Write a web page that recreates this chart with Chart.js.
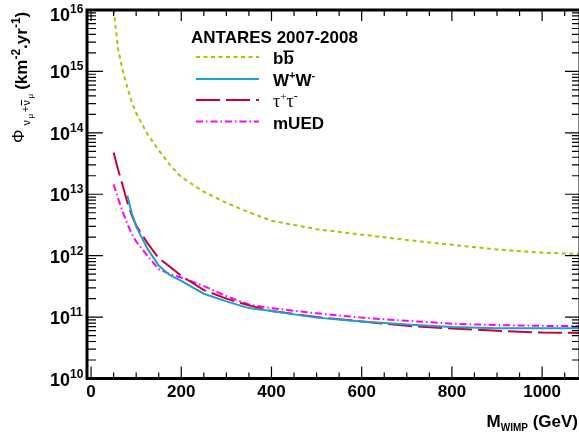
<!DOCTYPE html>
<html>
<head>
<meta charset="utf-8">
<script src="https://cdn.jsdelivr.net/npm/chart.js@4.4.0/dist/chart.umd.min.js"></script>
<style>
    html, body { margin: 0; padding: 0; background: #fff; overflow: hidden; }
    #wrap { width: 579px; height: 439px; overflow: hidden; }
</style>
</head>
<body>
<div id="wrap"><canvas id="myChart" width="590" height="439"></canvas></div>
<script>
// WIMP masses (GeV) where the limits are read
const masses = [50, 60, 70, 80.4, 90, 100, 125, 150, 175, 200, 250, 300, 350, 400, 500, 600, 700, 800, 900, 1000, 1100];

// flux limits (km^-2 yr^-1), one per channel
const fluxBB = [1.0e16, 2.3e15, 1.05e15, 5.5e14, 3.2e14, 2.1e14, 9.5e13, 5.2e13, 3.0e13, 1.9e13, 1.1e13, 7.2e12, 5.1e12, 3.7e12, 2.7e12, 2.2e12, 1.8e12, 1.5e12, 1.26e12, 1.12e12, 1.05e12];
const fluxWW = [null, null, null, 9.5e12, 5.0e12, 3.0e12, 1.3e12, 6.9e11, 4.8e11, 3.9e11, 2.4e11, 1.8e11, 1.4e11, 1.26e11, 9.8e10, 8.5e10, 7.6e10, 6.9e10, 6.6e10, 6.6e10, 6.6e10];
const fluxTauTau = [4.8e13, 2.5e13, 1.4e13, 7.4e12, 4.6e12, 3.1e12, 1.6e12, 9.1e11, 6.6e11, 4.7e11, 2.75e11, 2.0e11, 1.55e11, 1.26e11, 1.0e11, 8.5e10, 7.2e10, 6.5e10, 6.0e10, 5.6e10, 5.5e10];
const fluxMUED = [1.45e13, 8.5e12, 5.2e12, 3.3e12, 2.3e12, 1.7e12, 1.0e12, 6.0e11, 5.0e11, 4.4e11, 3.2e11, 2.2e11, 1.6e11, 1.4e11, 1.15e11, 9.8e10, 8.7e10, 7.8e10, 7.4e10, 7.2e10, 7.1e10];

const xTicks = [0, 200, 400, 600, 800, 1000];
const yExponents = [10, 11, 12, 13, 14, 15, 16];

function toPoints(values) {
    return masses.map((m, i) => ({ x: m, y: values[i] })).filter(p => p.y !== null);
}

const BOLD = '"Liberation Sans", Arial, sans-serif';

// draws a run of text pieces: [text, font, dy, gapAfter], returns the end x
function drawRun(ctx, x, y, pieces) {
    pieces.forEach(([txt, font, dy, gap]) => {
        ctx.font = font;
        ctx.fillText(txt, x, y + dy);
        x += ctx.measureText(txt).width + (gap || 0);
    });
    return x;
}
function runWidth(ctx, pieces) {
    let w = 0;
    pieces.forEach(([txt, font, dy, gap]) => { ctx.font = font; w += ctx.measureText(txt).width + (gap || 0); });
    return w;
}

const rootStyle = {
    id: 'rootStyle',
    afterDraw(chart) {
        const ctx = chart.ctx;
        const a = chart.chartArea;
        const xs = chart.scales.x, ys = chart.scales.y;
        ctx.save();
        ctx.fillStyle = '#000';
        ctx.strokeStyle = '#000';

        // frame
        ctx.lineWidth = 3;
        ctx.strokeRect(a.left, a.top, a.right - a.left, a.bottom - a.top);

        // x ticks, inside, bottom and top
        ctx.lineWidth = 1.2;
        for (let v = 0; v <= 1050; v += 50) {
            const px = xs.getPixelForValue(v);
            const major = v % 200 === 0;
            ctx.beginPath();
            ctx.moveTo(px, a.bottom); ctx.lineTo(px, a.bottom - (major ? 12 : 6));
            ctx.moveTo(px, a.top); ctx.lineTo(px, a.top + (major ? 11 : 6));
            ctx.stroke();
        }
        // y ticks, inside, left and right
        for (let e = 10; e <= 16; e++) {
            for (let k = 1; k <= 9; k++) {
                const v = k * Math.pow(10, e);
                if (v > 1e16) break;
                const py = ys.getPixelForValue(v);
                const major = k === 1;
                ctx.beginPath();
                ctx.moveTo(a.left, py); ctx.lineTo(a.left + (major ? 16 : 9), py);
                ctx.moveTo(a.right, py); ctx.lineTo(a.right - (major ? 15 : 8), py);
                ctx.stroke();
            }
        }

        // x tick labels
        ctx.textAlign = 'center';
        ctx.textBaseline = 'alphabetic';
        ctx.font = 'bold 17px ' + BOLD;
        xTicks.forEach(v => ctx.fillText(String(v), xs.getPixelForValue(v), 397));

        // y tick labels 10^n
        ctx.textAlign = 'left';
        yExponents.forEach(e => {
            const py = Math.max(ys.getPixelForValue(Math.pow(10, e)), 14);
            ctx.font = 'bold 18px ' + BOLD;
            const w = ctx.measureText('10').width;
            ctx.fillText('10', 70 - w, py + 7);
            ctx.font = 'bold 12px ' + BOLD;
            ctx.fillText(String(e), 70, py - 1);
        });

        // x title
        const xt = [
            ['M', 'bold 17px ' + BOLD, 0],
            ['WIMP', 'bold 10px ' + BOLD, 4],
            [' (GeV)', 'bold 17px ' + BOLD, 0]
        ];
        drawRun(ctx, 578 - runWidth(ctx, xt), 427, xt);

        // y title, rotated
        ctx.save();
        ctx.translate(27, 143);
        ctx.rotate(-Math.PI / 2);
        let x = drawRun(ctx, 0, 0, [['\u03A6', '17px ' + BOLD, -3]]);
        x = drawRun(ctx, x + 4, 0, [
            ['\u03BD', '11px ' + BOLD, 3, 1.5],
            ['\u03BC', '8px ' + BOLD, 6, 1.5],
            ['+', '11px ' + BOLD, 2, 0.5]
        ]);
        ctx.font = '11px ' + BOLD;
        const nuW = ctx.measureText('\u03BD').width;
        ctx.fillRect(x, -6, nuW, 1);
        x = drawRun(ctx, x, 0, [
            ['\u03BD', '11px ' + BOLD, 3, 1.5],
            ['\u03BC', '8px ' + BOLD, 6, 0]
        ]);
        drawRun(ctx, x + 4, 0, [
            ['(km', 'bold 17px ' + BOLD, 0],
            ['-2', 'bold 12px ' + BOLD, -7],
            ['.yr', 'bold 17px ' + BOLD, 0],
            ['-1', 'bold 12px ' + BOLD, -7],
            [')', 'bold 17px ' + BOLD, 0]
        ]);
        ctx.restore();

        // legend
        ctx.font = 'bold 17px ' + BOLD;
        ctx.fillText('ANTARES 2007-2008', 191, 43);
        const rows = [57, 79, 100, 121.5];
        chart.data.datasets.forEach((ds, i) => {
            const y = rows[i];
            ctx.save();
            ctx.strokeStyle = ds.borderColor;
            ctx.lineWidth = ds.borderWidth;
            ctx.setLineDash(ds.borderDash);
            ctx.beginPath();
            ctx.moveTo(196, y); ctx.lineTo(259, y);
            ctx.stroke();
            ctx.restore();
        });
        const lx = 273;
        // b bbar
        ctx.font = 'bold 17px ' + BOLD;
        const bW = ctx.measureText('b').width;
        ctx.fillText('bb', lx, rows[0] + 7);
        ctx.fillRect(lx + bW, rows[0] - 6.5, bW, 1.5);
        drawRun(ctx, lx, rows[1] + 7, [
            ['W', 'bold 17px ' + BOLD, 0],
            ['+', 'bold 11px ' + BOLD, -7],
            ['W', 'bold 17px ' + BOLD, 0],
            ['-', 'bold 11px ' + BOLD, -7]
        ]);
        drawRun(ctx, lx, rows[2] + 7, [
            ['\u03C4', '18px "Liberation Serif", serif', 0],
            ['+', '11px "Liberation Serif", serif', -7],
            ['\u03C4', '18px "Liberation Serif", serif', 0],
            ['-', '12px "Liberation Serif", serif', -7]
        ]);
        ctx.font = 'bold 17px ' + BOLD;
        ctx.fillText('mUED', lx, rows[3] + 7);

        ctx.restore();
    }
};

const ctx = document.getElementById('myChart');

new Chart(ctx, {
    type: 'line',
    data: {
        datasets: [
            { label: 'bb', data: toPoints(fluxBB), borderColor: '#99cc00', borderWidth: 2, borderDash: [4, 3.5] },
            { label: 'WW', data: toPoints(fluxWW), borderColor: '#1aa0d2', borderWidth: 2, borderDash: [] },
            { label: 'tautau', data: toPoints(fluxTauTau), borderColor: '#cc0033', borderWidth: 2, borderDash: [24, 6] },
            { label: 'mUED', data: toPoints(fluxMUED), borderColor: '#ff00ff', borderWidth: 2, borderDash: [7, 3, 1.5, 3] }
        ]
    },
    options: {
        responsive: false,
        animation: false,
        devicePixelRatio: 1,
        layout: { padding: { left: 87, top: 10, right: 10, bottom: 60.5 } },
        elements: { point: { radius: 0 }, line: { tension: 0, fill: false } },
        plugins: { legend: { display: false }, tooltip: { enabled: false } },
        scales: {
            x: { type: 'linear', min: -9, max: 1084, display: false },
            y: { type: 'logarithmic', min: 1e10, max: 1e16, display: false }
        }
    },
    plugins: [rootStyle]
});
</script>
</body>
</html>
